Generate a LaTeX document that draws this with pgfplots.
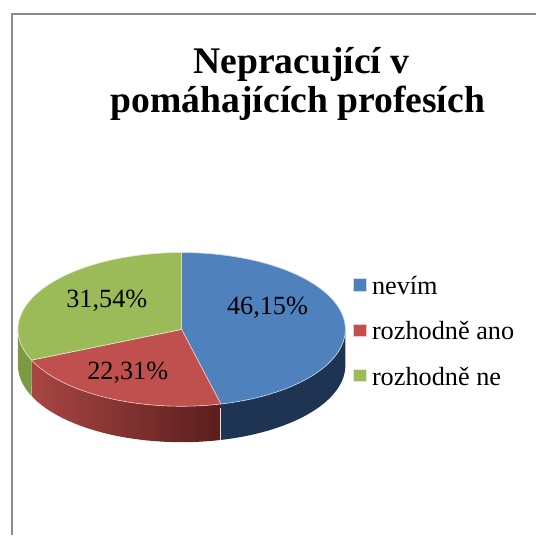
\documentclass[border=0pt]{standalone}
\usepackage{fontspec}
\setmainfont{Liberation Serif}
\usepackage{pgfplots}
\usepackage{pgfplotstable}
\pgfplotsset{compat=1.18}
\pgfplotstableread{
label value
nevim 46.15
ano 22.31
ne 31.54
}\piedata
\definecolor{cBlue}{HTML}{4F81BD}
\definecolor{cRed}{HTML}{C0504D}
\definecolor{cGreen}{HTML}{9BBB59}
\definecolor{sBlue}{HTML}{1F3352}
\definecolor{sRedL}{HTML}{A84643}
\definecolor{sRedD}{HTML}{5A1E1D}
\definecolor{sGreen}{HTML}{7C9A42}
\definecolor{frameGray}{HTML}{8C8C8C}
\begin{document}
\pgfplotstablegetelem{0}{value}\of\piedata\let\va\pgfplotsretval
\pgfplotstablegetelem{1}{value}\of\piedata\let\vb\pgfplotsretval
\pgfmathsetmacro{\aA}{3.6*\va}
\pgfmathsetmacro{\aB}{3.6*(\va+\vb)}
\begin{tikzpicture}
\begin{axis}[
  scale only axis, width=532bp, height=536bp,
  xmin=0, xmax=532, ymin=0, ymax=536,
  axis lines=none, ticks=none, clip=false,
  legend style={at={(axis cs:349,260)}, anchor=north west, draw=none, fill=none,
    inner sep=0pt, outer sep=0pt, row sep=20.5bp, column sep=5.5bp,
    font=\fontsize{26.4}{30}\selectfont,
    nodes={inner sep=0pt, text height=19bp, text depth=6bp}},
  legend cell align=left,
  legend image code/.code={\fill[#1] (0bp,-3bp) rectangle (12.6bp,9.6bp);},
]
\coordinate (BL) at (axis cs:0,0);
\coordinate (TR) at (axis cs:532,536);
% side faces
\addplot[draw=none, fill=sBlue, forget plot, samples at={0,0.025,...,1,1.0001,1.025,...,2.01}]
  ({177+164*sin(90+(\aA-90)*(x<1.00005?x:2-x))},{206+77*cos(90+(\aA-90)*(x<1.00005?x:2-x))-36*(x>1.00005)}) -- cycle;
\addplot[draw=none, left color=sRedL, right color=sRedD, forget plot, samples at={0,0.025,...,1,1.0001,1.025,...,2.01}]
  ({177+164*sin(\aA+(\aB-\aA)*(x<1.00005?x:2-x))},{206+77*cos(\aA+(\aB-\aA)*(x<1.00005?x:2-x))-36*(x>1.00005)}) -- cycle;
\addplot[draw=none, fill=sGreen, forget plot, samples at={0,0.025,...,1,1.0001,1.025,...,2.01}]
  ({177+164*sin(\aB+(270-\aB)*(x<1.00005?x:2-x))},{206+77*cos(\aB+(270-\aB)*(x<1.00005?x:2-x))-36*(x>1.00005)}) -- cycle;
% top faces
\addplot[fill=cBlue, draw=white!70!cBlue, line width=0.6bp, domain=0:\aA, samples=80]
  ({177+164*sin(x)},{206+77*cos(x)}) -- (axis cs:177,206) -- cycle;
\addlegendentry{nevím}
\addplot[fill=cRed, draw=white!70!cRed, line width=0.6bp, domain=\aA:\aB, samples=50]
  ({177+164*sin(x)},{206+77*cos(x)}) -- (axis cs:177,206) -- cycle;
\addlegendentry{rozhodně ano}
\addplot[fill=cGreen, draw=white!70!cGreen, line width=0.6bp, domain=\aB:360, samples=60]
  ({177+164*sin(x)},{206+77*cos(x)}) -- (axis cs:177,206) -- cycle;
\addlegendentry{rozhodně ne}
% labels
\node[anchor=base, font=\fontsize{26.4}{30}\selectfont] at (axis cs:263,221) {46,15\%};
\node[anchor=base, font=\fontsize{26.4}{30}\selectfont] at (axis cs:123,156) {22,31\%};
\node[anchor=base, font=\fontsize{26.4}{30}\selectfont] at (axis cs:102,228) {31,54\%};
% title
\node[anchor=base, font=\bfseries\fontsize{37.8}{42}\selectfont] at (axis cs:297,462) {Nepracující v};
\node[anchor=base, font=\bfseries\fontsize{37.8}{42}\selectfont] at (axis cs:293.5,423) {pomáhajících profesích};
% chart-area frame
\draw[frameGray, line width=2bp] (axis cs:7.5,0) -- (axis cs:7.5,522.4) -- (axis cs:532,522.4);
\end{axis}
\pgfresetboundingbox
\path[use as bounding box] (BL) rectangle (TR);
\end{tikzpicture}
\end{document}
